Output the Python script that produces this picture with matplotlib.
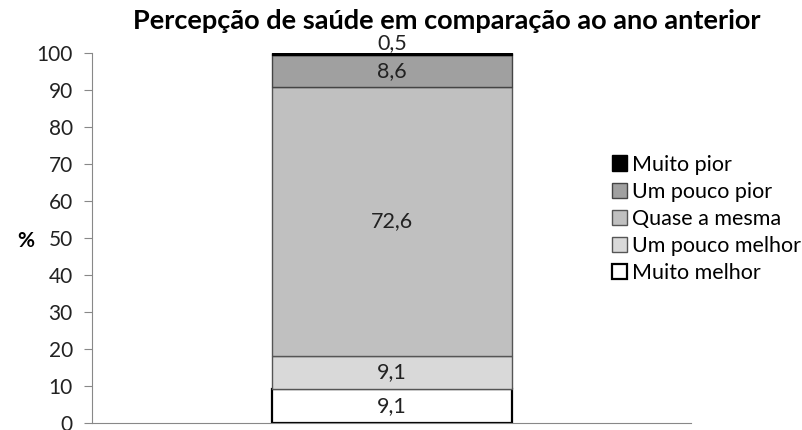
import numpy as np
import matplotlib.pyplot as plt

plt.rcParams['font.family'] = ['Lato', 'DejaVu Sans']

categories = ['Muito melhor', 'Um pouco melhor', 'Quase a mesma',
              'Um pouco pior', 'Muito pior']
values = [9.1, 9.1, 72.6, 8.6, 0.5]
labels = ['9,1', '9,1', '72,6', '8,6', '0,5']
colors = ['#ffffff', '#d9d9d9', '#c0c0c0', '#a0a0a0', '#000000']
edges = ['#000000', '#555555', '#555555', '#444444', '#000000']
widths = [1.6, 1.0, 1.0, 1.0, 1.0]

fig = plt.figure(figsize=(8.02, 4.30), dpi=100)
ax = fig.add_axes([0.115, 0.016, 0.747, 0.861])

bottom = 0
handles = []
for cat, v, lab, c, e, w in zip(categories, values, labels, colors, edges, widths):
    h = ax.bar(0, v, width=0.4, bottom=bottom, color=c, edgecolor=e,
               linewidth=w, label=cat)
    handles.append(h)
    if v > 2:
        ax.text(0, bottom + v / 2, lab, ha='center', va='center', fontsize=15.5,
                color='#222222')
    else:
        # small segment: label sits just above the bar
        ax.text(0, bottom + v + 0.1, lab, ha='center', va='bottom', fontsize=15.5,
                color='#222222')
    bottom += v

ax.set_xlim(-0.5, 0.5)
ax.set_ylim(0, 100)
ax.set_yticks(np.arange(0, 101, 10))
ax.set_xticks([])
ax.tick_params(axis='y', labelsize=15, color='#888888', length=6, pad=8,
               labelcolor='#222222')
for s in ['top', 'right']:
    ax.spines[s].set_visible(False)
ax.spines['left'].set_color('#888888')
ax.spines['bottom'].set_color('#888888')

fig.text(0.557, 0.952, 'Percepção de saúde em comparação ao ano anterior',
         fontsize=19.5, fontweight='bold', ha='center', va='center')
fig.text(0.022, 0.44, '%', fontsize=15, fontweight='bold', va='center')

ax.legend(handles[::-1], categories[::-1], loc='center left',
          bbox_to_anchor=(0.835, 0.552), frameon=False, fontsize=15.5,
          handlelength=0.7, handleheight=0.7, handletextpad=0.25,
          labelspacing=0.33)

fig.savefig('out.png', dpi=100)
